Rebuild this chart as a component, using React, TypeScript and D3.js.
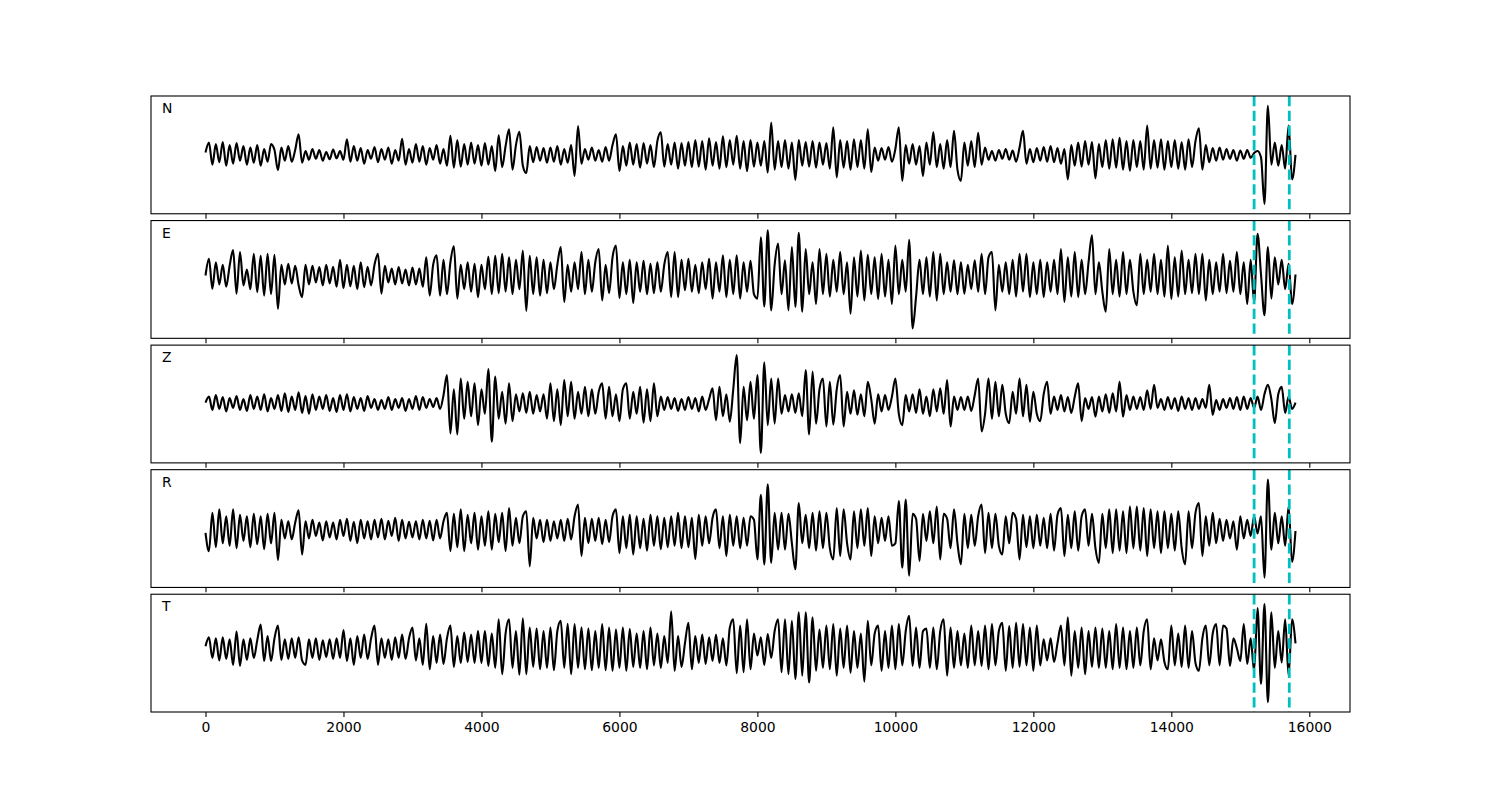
import React, { useEffect, useRef } from "react";
import * as d3 from "d3";

// channel names, one panel each
const channels = ["N", "E", "Z", "R", "T"];
// samples are read every 50 units along x (0 .. 15800), amplitude in % of trace max
const sampleStep = 50;

const nTrace = [
  5, 25, -20, 22, -15, 26, -22, 20, -18, 24, -12, 18, -20, 15, -16, 20, -22, 12, -14, 22,
  10, -31, 15, -12, 18, -14, 10, 42, -16, 8, -10, 12, -8, 10, -12, 6, -9, 11, -7, 8,
  -10, 32, -14, 18, -12, 14, -18, 10, -8, 16, -15, 12, -10, 15, -18, 10, -12, 33, -20, 12,
  -16, 22, -14, 18, -20, 14, -10, 20, -18, 12, -22, 39, -26, 30, -24, 22, -20, 25, -18, 20,
  -22, 24, -20, 18, -33, 40, -25, 18, 52, -30, 20, 47, -22, -37, 18, -15, 16, -12, 14, -16,
  15, -14, 18, -20, 12, -16, 20, -43, 59, -18, 12, -10, 15, -12, 10, -14, 16, -12, 20, 42,
  -33, 18, -22, 25, -20, 22, -26, 24, -18, 20, -25, 28, 46, -24, 22, -20, 25, -28, 24, -22,
  26, -25, 30, -24, 28, -30, 34, -22, 26, -28, 38, -25, 30, -20, 39, -28, 28, -33, 30, -24,
  25, -22, 28, -36, 66, -30, 28, -25, 30, -28, 25, -51, 30, -22, 26, -24, 28, -26, 25, -20,
  24, -28, 56, -46, 30, -26, 28, -30, 32, -25, 30, -28, 52, -35, 15, -12, 14, -10, 16, -14,
  12, 56, -53, 20, -18, 22, -20, 18, -43, 25, -20, 46, -25, 22, -28, 30, -25, 49, -30, -53,
  25, -22, 28, -25, 45, -20, 15, -10, 8, -12, 10, -8, 12, -10, 9, -14, 15, 49, -18, 12,
  -15, 14, -12, 16, -14, 18, -15, 14, -18, 12, -50, 20, -22, 25, -24, 28, -20, 26, -48, 22,
  -25, 30, -28, 32, -26, 35, -30, 28, -32, 30, -25, 28, -30, 60, -28, 30, -26, 32, -30, 28,
  -25, 30, -28, 26, -30, 32, -25, 28, 54, -30, 20, -15, 14, -12, 15, -10, 12, -8, 10, -12,
  9, -8, 10, -6, 4, 8, -5, -100, 100, -20, 25, -22, 20, -28, 60, -50, 0,
];

const eTrace = [
  8, 42, -19, 35, -10, 30, -15, 28, 60, -29, 56, -12, 20, -20, 52, -26, 48, -33, 52, -30,
  50, -60, 30, -10, 32, -8, 28, -12, -36, 30, -10, 28, -6, 25, -12, 30, -8, 26, -15, 40,
  -18, 30, -14, 28, -20, 35, -16, 26, -12, 30, 52, -29, 28, -6, 22, -10, 25, -8, 20, -12,
  24, -10, 22, -15, 45, -33, 30, 49, -33, 40, -30, 35, 68, -39, 30, -20, 35, -25, 32, -36,
  30, -20, 46, -30, 48, -28, 52, -25, 45, -30, 40, -20, 59, -64, 48, -30, 45, -33, 40, -28,
  35, -20, 30, 66, -46, 30, -25, 35, -20, 56, -30, 40, -25, 35, 62, -43, 30, -28, 45, 69,
  -38, 35, -30, 40, -48, 35, -25, 38, -30, 32, -28, 35, -25, 30, 56, -36, 56, -36, 40, -22,
  42, -25, 30, -28, 35, -20, 42, -39, 35, -25, 49, -36, 40, -30, 49, -39, 35, -25, 38, -30,
  -39, 86, -55, 100, -63, 30, 73, -30, 39, -63, 66, -56, 95, -66, 62, -30, 35, -50, 62, -30,
  52, -35, 40, -25, 56, -30, 35, -70, 45, -35, 59, -43, 50, -30, 45, -40, 52, -35, 40, -50,
  69, -30, 40, -25, 81, -100, -35, 40, -30, 45, -35, 56, -43, 52, -30, 35, -25, 39, -30, 35,
  -29, 30, -20, 39, -25, 52, -30, 45, 56, -63, 30, -25, 35, -30, 40, -35, 52, -25, 52, -36,
  35, -30, 40, -36, 35, -25, 40, -30, 62, -46, 45, -35, 56, -36, 40, -30, 35, 90, -30, 35,
  -25, -66, 62, -30, 40, -35, 56, -30, 40, -25, -53, 52, -30, 40, -25, 52, -30, 40, -35, 69,
  -40, 45, -35, 59, -30, 40, -28, 52, -30, 52, -43, 40, -30, 35, -25, 52, -28, 38, -25, 56,
  -30, 35, -50, 40, -46, 93, 10, -73, 66, -39, 45, -10, 40, -20, 32, -50, 10,
];

const zTrace = [
  3, 15, -12, 18, -10, 14, -15, 12, -8, 16, -12, 10, -14, 18, -10, 15, -12, 20, -15, 12,
  -10, 18, -14, 22, -16, 15, -12, 24, -18, 16, -20, 20, -12, 15, -10, 18, -14, 12, -16, 18,
  -12, 20, -15, 14, -10, 12, -14, 16, -8, 10, -12, 8, -10, 14, -12, 10, -8, 12, -14, 10,
  -10, 16, -12, 14, -8, 10, -6, 12, -10, 18, 59, -60, 30, -62, 52, -30, 45, -25, 42, -43,
  30, -20, 71, -77, 56, -30, 25, -40, 42, -35, 20, -15, 22, -18, 25, -20, 18, -15, 20, -30,
  42, -35, 30, -43, 49, -25, 45, -30, 25, -20, 35, -25, 30, -20, 25, 42, -30, 35, -25, 20,
  -35, 30, 42, -30, 25, -20, 35, -38, 30, -35, 42, -25, 15, -12, 14, -10, 12, -14, 10, -12,
  14, -10, 12, -15, 15, -12, 10, 32, -33, 35, -25, 20, -36, 30, 100, -80, 35, -33, 45, -30,
  59, -100, 85, -43, 52, -40, 52, -20, 18, -15, 20, -18, 22, -25, 69, -62, 66, -40, 30, 52,
  -46, 45, -42, 30, 59, -46, 25, -20, 28, -22, 20, -25, 45, 10, -40, 20, -15, 18, -12, 15,
  52, -20, -43, 18, -15, 20, -18, 30, -20, 15, -25, 30, -15, 32, -20, 49, -46, 15, -12, 14,
  -12, 15, -14, 18, 52, -56, -20, 52, -30, 45, -25, 39, -20, -39, 25, -20, 52, -25, 39, -36,
  25, -20, -35, 20, 45, -20, 15, -12, 18, -15, 14, -18, 15, 42, -35, 12, -10, 14, -26, 15,
  -15, 20, -18, 22, -15, 45, -26, 18, -12, 15, -10, 14, -12, 28, -10, 39, -8, 10, -12, 14,
  -10, 12, -14, 15, -10, 12, -12, 12, -10, 10, -8, 39, -22, 8, -12, 10, -8, 12, -10, 14,
  -12, 15, -10, 12, -8, 15, -12, 20, 39, 10, -39, 20, 35, -18, 15, -10, 3,
];

const rTrace = [
  -9, -46, 32, -38, 39, -30, 25, -35, 39, -40, 28, -25, 25, -38, 30, -32, 25, -42, 30, -30,
  32, -64, 18, -20, 15, -22, 12, 37, -53, 15, -20, 18, -15, 12, -24, 15, -18, 12, -22, 18,
  -15, 20, -25, 14, -30, 18, -20, 15, -22, 18, -18, 20, -22, 16, -15, 22, -25, 18, -20, 14,
  -18, 15, -22, 18, -20, 16, -24, 18, -20, 15, 32, -46, 30, -38, 39, -46, 28, -30, 32, -43,
  25, -35, 35, -43, 30, -28, 32, -46, 42, -35, 22, -30, 25, 35, -77, 22, -20, 18, -28, 18,
  -25, 15, -20, 18, -25, 20, -22, 25, 49, -56, 22, -30, 20, -25, 22, -32, 18, -28, 25, 39,
  -50, 25, -40, 28, -53, 25, -40, 20, -45, 28, -35, 25, -42, 22, -38, 25, -35, 32, -40, 25,
  -38, 22, -62, 28, -35, 25, -30, 22, 39, -40, 25, -56, 28, -35, 25, -40, 22, -35, 25, 18,
  -63, 69, -73, 90, -70, 32, -43, 32, -43, 30, -30, -83, 52, -30, 28, -40, 32, -45, 35, -40,
  32, -40, -63, 42, -56, 39, -30, -63, 35, -40, 39, -35, 42, -56, 25, -30, 22, -25, 25, -35,
  -30, 56, -80, 59, -96, 30, 20, -66, 30, -25, 35, -30, 45, -63, 30, 20, -40, 39, -30, -73,
  30, -40, 28, -35, 25, 49, -50, 32, -40, 30, -35, -53, 25, -30, 32, 20, -63, 28, -38, 25,
  -40, 28, -35, 22, -40, 30, -45, 28, 42, -56, 28, -40, 35, -45, 25, 39, -35, 30, -40, -70,
  30, -40, 39, -50, 39, -45, 35, -50, 45, -40, 45, -45, 42, -56, 39, -40, 35, -50, 35, -40,
  30, -45, 35, -40, -73, 35, -40, 32, 52, -56, 25, -35, 32, -30, 20, -25, 18, -20, 15, -43,
  25, -20, 18, -15, 25, -10, 25, -100, 100, -43, 32, -30, 25, -35, 45, -68, -5,
];

const tTrace = [
  14, 32, -10, 30, -15, 32, -12, 28, -24, 44, -26, 28, -14, 30, -10, 26, 58, -16, 35, -16,
  30, 56, -14, 28, -12, 30, -10, 32, -15, -24, 28, -10, 30, -14, 26, -8, 28, -12, 30, -10,
  47, -16, 30, -24, 35, -10, 38, -12, 30, 56, -24, 30, -10, 28, -14, 32, -10, 38, -12, 30,
  52, -15, 30, -24, 60, -33, 35, -20, 38, -22, 30, 56, -28, 35, -20, 42, -18, 38, -20, 45,
  -20, 45, -26, 40, -30, 69, -43, 40, 69, -30, 45, -44, 71, -43, 52, -28, 50, -33, 45, -30,
  52, -35, 45, 66, -30, 60, -43, 59, -30, 52, -33, 50, -35, 45, -30, 59, -35, 52, -36, 48,
  -30, 52, -36, 49, -28, 40, -30, 45, -33, 52, -25, 40, -30, 35, -20, 85, -36, 35, -28, 20,
  62, -33, 35, -20, 38, -22, 32, -16, 38, -20, 30, -25, 52, 69, -41, 56, -39, 69, -33, 40,
  -5, 32, -24, 39, -10, 45, 69, -39, 69, -43, 66, -53, 83, -46, 83, -60, 73, -36, 48, -30,
  56, -33, 59, -46, 50, -30, 56, -40, 45, -30, 40, -58, 66, -25, 40, 56, -36, 45, -30, 56,
  -33, 59, -25, 45, 76, -26, 52, -30, 45, 50, -30, 52, -33, 45, 69, -46, 52, -30, 45, -25,
  40, -30, 56, -25, 45, -26, 56, -33, 59, -25, 45, 62, -36, 55, -30, 62, -28, 59, -25, 52,
  -36, 56, -25, 28, -15, 30, -18, 20, 56, -25, 73, -46, 45, -30, 52, -43, 45, -28, 52, -30,
  50, -30, 45, -33, 59, -30, 52, -33, 45, -30, 52, -25, 45, 69, -33, 30, -15, 28, -18, -33,
  56, -25, 40, -28, 56, -30, 45, -20, -36, 30, 56, -25, 40, 59, -25, 56, 50, -26, 30, 10,
  -16, 59, -22, 30, -36, 92, -63, 100, -100, 83, -30, 45, -19, 69, -46, 69, 20,
];

const traces = [nTrace, eTrace, zTrace, rTrace, tTrace];
// the two picked times, drawn as dashed cyan lines
const picks = [15200, 15710];
const xTicks = [0, 2000, 4000, 6000, 8000, 10000, 12000, 14000, 16000];

function drawSeismo(svgEl: SVGSVGElement) {
  const svg = d3.select(svgEl);
  svg.selectAll("*").remove();

  const MARGIN = { left: 151, right: 1350, top: 96, bottom: 712 };
  const gap = 6.8;
  const panelH = (MARGIN.bottom - MARGIN.top - gap * (channels.length - 1)) / channels.length;

  const x = d3.scaleLinear().domain([-790, 16590]).range([MARGIN.left, MARGIN.right]);

  channels.forEach((name, i) => {
    const y0 = MARGIN.top + i * (panelH + gap);
    const y = d3.scaleLinear().domain([-120, 120]).range([y0 + panelH, y0]);
    const panel = svg.append("g").attr("class", "panel");

    const line = d3.line<number>()
      .x((d, j) => x(j * sampleStep))
      .y((d) => y(d))
      .curve(d3.curveMonotoneX);

    // waveform
    panel.append("path")
      .datum(traces[i])
      .attr("d", line)
      .attr("fill", "none")
      .attr("stroke", "#000")
      .attr("stroke-width", 2.1)
      .attr("stroke-linejoin", "round");

    // picks
    panel.selectAll(".pick")
      .data(picks)
      .enter().append("line")
      .attr("class", "pick")
      .attr("x1", (d) => x(d))
      .attr("x2", (d) => x(d))
      .attr("y1", y0)
      .attr("y2", y0 + panelH)
      .attr("stroke", "#00bfbf")
      .attr("stroke-width", 2.8)
      .attr("stroke-dasharray", "10.3 4.4");

    // frame
    panel.append("rect")
      .attr("x", MARGIN.left)
      .attr("y", y0)
      .attr("width", MARGIN.right - MARGIN.left)
      .attr("height", panelH)
      .attr("fill", "none")
      .attr("stroke", "#000")
      .attr("stroke-width", 1.1);

    // x axis, labels only on the last panel
    const last = i === channels.length - 1;
    const axis = panel.append("g")
      .attr("transform", "translate(0," + (y0 + panelH) + ")")
      .call(
        d3.axisBottom(x)
          .tickValues(xTicks)
          .tickSize(4.9)
          .tickPadding(4.9)
          .tickFormat((d) => (last ? String(d) : ""))
      );
    axis.select(".domain").remove();
    axis.selectAll(".tick line").attr("stroke", "#000").attr("stroke-width", 1.1);
    axis.selectAll(".tick text")
      .attr("fill", "#000")
      .style("font-family", "'DejaVu Sans', sans-serif")
      .style("font-size", "13.9px");

    // channel name
    panel.append("text")
      .attr("x", MARGIN.left + 11)
      .attr("y", y0 + 17)
      .style("font-family", "'DejaVu Sans', sans-serif")
      .style("font-size", "13.9px")
      .attr("fill", "#000")
      .text(name);
  });
}

export default function App() {
  const ref = useRef<SVGSVGElement>(null);
  useEffect(() => {
    if (ref.current) drawSeismo(ref.current);
  }, []);
  return (
    <svg
      ref={ref}
      width={1500}
      height={800}
      style={{ position: "absolute", left: 0, top: 0, background: "#fff" }}
    />
  );
}
